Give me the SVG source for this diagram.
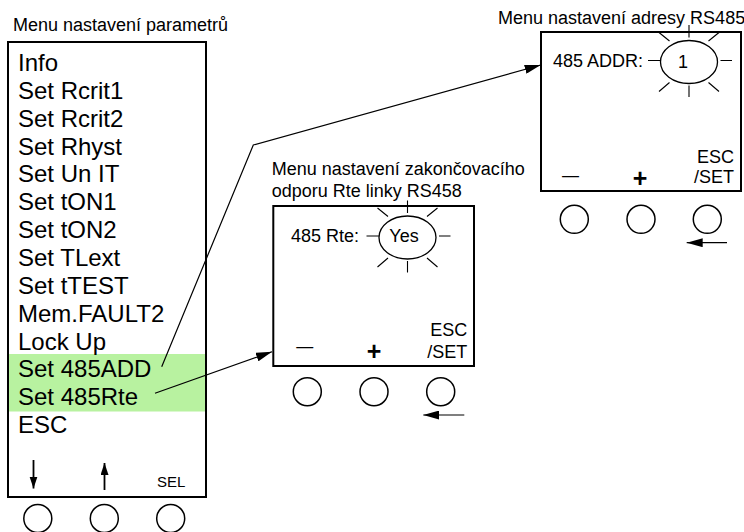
<svg xmlns="http://www.w3.org/2000/svg" xmlns:xlink="http://www.w3.org/1999/xlink" width="744" height="532" viewBox="0 0 744 532">
<style>
text{font-family:"Liberation Sans",Arial,sans-serif;fill:#000}
.title{font-size:18px}
.item{font-size:24px}
.lbl{font-size:18px}
.box{fill:none;stroke:#000;stroke-width:2}
.btn{fill:#fff;stroke:#000;stroke-width:1.5}
.ray{stroke:#000;stroke-width:1.1;fill:none}
.conn{stroke:#000;stroke-width:1.2;fill:none}
.nav{stroke:#000;stroke-width:1.8;fill:none}
</style>
<defs>
<marker id="ah" markerUnits="userSpaceOnUse" markerWidth="17" markerHeight="9" refX="16" refY="4.5" orient="auto">
<path d="M0,0 L16,4.5 L0,9 z" fill="#000"/>
</marker>
<marker id="ahs" markerUnits="userSpaceOnUse" markerWidth="13" markerHeight="9" refX="12" refY="4" orient="auto">
<path d="M0,0 L12,4 L0,8 z" fill="#000"/>
</marker>
<g id="sun">
<ellipse cx="0" cy="0" rx="28.5" ry="21.5" fill="#fff" stroke="#000" stroke-width="1.3"/>
<path class="ray" d="M-41,-1.5 H-28.5 M31.5,-1.5 H43 M0,-37 V-24.5 M0,23.5 V35 M-30,-29.5 L-19.5,-21 M19.5,-21 L30,-29.5 M-30,29.5 L-19.5,20.5 M19.5,20.5 L30,29.5"/>
</g>
</defs>

<g id="panel-params">
<text class="title" x="13" y="31">Menu nastavení parametrů</text>
<rect x="8" y="354" width="198" height="57.5" fill="#b8f2a0"/>
<rect class="box" x="8" y="42" width="198" height="455"/>
<text class="item" x="18" y="71">Info</text>
<text class="item" x="18" y="98.9">Set Rcrit1</text>
<text class="item" x="18" y="126.7">Set Rcrit2</text>
<text class="item" x="18" y="154.6">Set Rhyst</text>
<text class="item" x="18" y="182.4">Set Un IT</text>
<text class="item" x="18" y="210.3">Set tON1</text>
<text class="item" x="18" y="238.1">Set tON2</text>
<text class="item" x="18" y="266">Set TLext</text>
<text class="item" x="18" y="293.8">Set tTEST</text>
<text class="item" x="18" y="321.7">Mem.FAULT2</text>
<text class="item" x="18" y="349.5">Lock Up</text>
<text class="item" x="18" y="377.4">Set 485ADD</text>
<text class="item" x="18" y="405.2">Set 485Rte</text>
<text class="item" x="18" y="433">ESC</text>
<line class="nav" x1="33.5" y1="460" x2="33.5" y2="488.5" marker-end="url(#ahs)"/>
<line class="nav" x1="104.5" y1="490" x2="104.5" y2="463" marker-end="url(#ahs)"/>
<text x="157" y="486.5" style="font-size:15px">SEL</text>
<circle class="btn" cx="37.8" cy="518.5" r="14"/>
<circle class="btn" cx="104.3" cy="518.5" r="14"/>
<circle class="btn" cx="170.7" cy="518.5" r="14"/>
</g>

<g id="panel-addr">
<text class="title" x="498" y="24">Menu nastavení adresy RS485</text>
<rect class="box" x="541" y="32" width="200" height="159"/>
<text class="lbl" x="553" y="67">485 ADDR:</text>
<use xlink:href="#sun" href="#sun" transform="translate(689,62)"/>
<text class="lbl" x="683" y="67.5" text-anchor="middle">1</text>
<text class="lbl" x="570.5" y="180.5" text-anchor="middle" style="font-size:17px">—</text>
<text x="640" y="186.5" text-anchor="middle" style="font-size:25px;font-weight:bold">+</text>
<text class="lbl" x="734" y="163.3" text-anchor="end">ESC</text>
<text class="lbl" x="734" y="183.3" text-anchor="end">/SET</text>
<circle class="btn" cx="574.3" cy="219.3" r="14"/>
<circle class="btn" cx="641" cy="219.3" r="14"/>
<circle class="btn" cx="707.3" cy="219.3" r="14"/>
<line class="conn" x1="727" y1="242.7" x2="686.7" y2="242.7" marker-end="url(#ah)"/>
</g>

<g id="panel-rte">
<text class="title" x="271.7" y="175">Menu nastavení zakončovacího</text>
<text class="title" x="271.7" y="196.7">odporu Rte linky RS458</text>
<rect class="box" x="273.3" y="206" width="200.7" height="160"/>
<text class="lbl" x="291" y="241.7">485 Rte:</text>
<use xlink:href="#sun" href="#sun" transform="translate(407.5,237.5)"/>
<text class="lbl" x="404" y="241.7" text-anchor="middle">Yes</text>
<text class="lbl" x="304.7" y="352" text-anchor="middle" style="font-size:17px">—</text>
<text x="374" y="359.5" text-anchor="middle" style="font-size:25px;font-weight:bold">+</text>
<text class="lbl" x="467.3" y="335.5" text-anchor="end">ESC</text>
<text class="lbl" x="467.3" y="358.3" text-anchor="end">/SET</text>
<circle class="btn" cx="307.3" cy="391.7" r="14"/>
<circle class="btn" cx="374" cy="391.7" r="14"/>
<circle class="btn" cx="440.7" cy="391.7" r="14"/>
<line class="conn" x1="464.3" y1="415" x2="423.3" y2="415" marker-end="url(#ah)"/>
</g>

<g id="connectors">
<polyline class="conn" points="161.7,366.7 253.3,145 540.7,65" marker-end="url(#ah)"/>
<line class="conn" x1="155" y1="393.3" x2="272" y2="351.7" marker-end="url(#ah)"/>
</g>
</svg>
